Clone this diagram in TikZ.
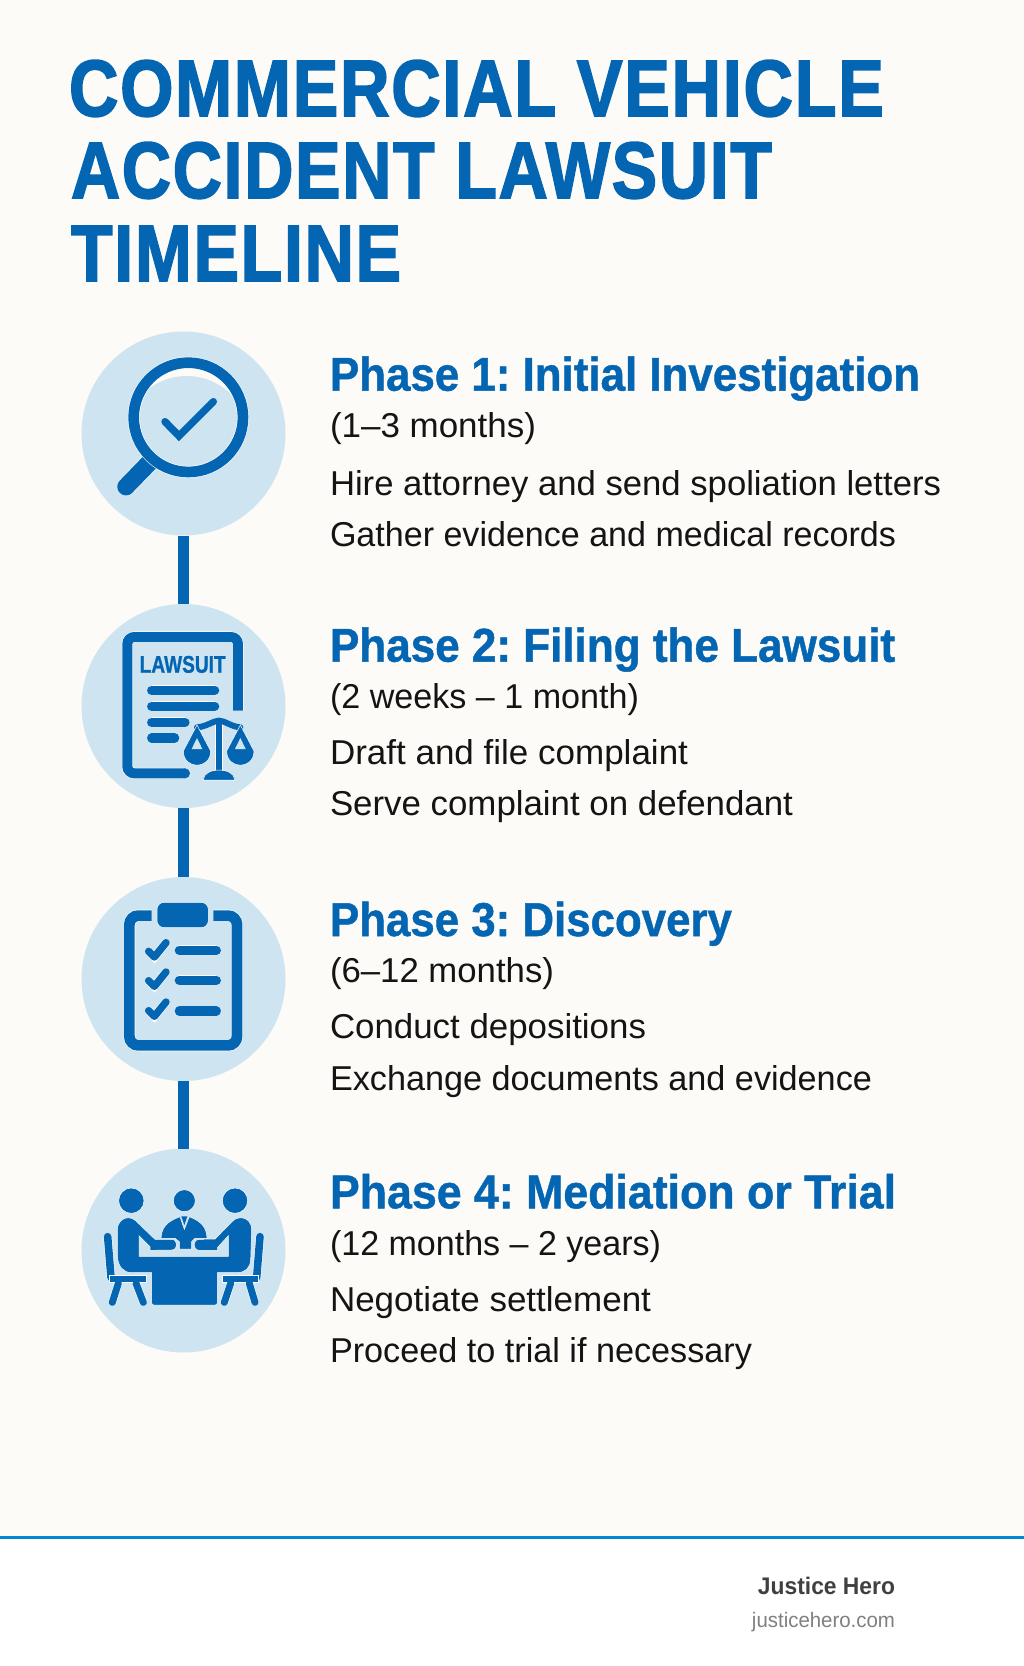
\documentclass[tikz,border=0pt]{standalone}
\usepackage{fontspec}
\usepackage{graphicx}
\newfontfamily\firaf{Liberation Sans}[LetterSpace=2.5,BoldFeatures={FakeBold=2.2,LetterSpace=2.5}]
\newfontfamily\headf{Liberation Sans}[BoldFeatures={FakeBold=1}]
\newfontfamily\bodyf{Liberation Sans}
\newfontfamily\footf{Liberation Sans}
\definecolor{bgc}{HTML}{FDFBF7}
\definecolor{blu}{HTML}{0466B2}
\definecolor{disc}{HTML}{CEE4F0}
\definecolor{ink}{HTML}{141414}
\definecolor{rulec}{HTML}{0088D1}
\definecolor{foota}{HTML}{404040}
\definecolor{footb}{HTML}{808080}
\newcommand\fitw[2]{\resizebox{#1pt}{\height}{#2}}
\newcommand\ttlf{\firaf\bfseries\fontsize{80}{90}\selectfont\color{blu}}
\newcommand\hdf{\headf\bfseries\fontsize{47.5}{54}\selectfont\color{blu}}
\newcommand\bdf{\bodyf\fontsize{34.5}{38}\selectfont\color{ink}}
\frenchspacing
\tikzset{
  txt/.style={anchor=base west,inner sep=0pt,outer sep=0pt},
  txte/.style={anchor=base east,inner sep=0pt,outer sep=0pt},
  dot/.style={circle,fill=disc,minimum size=204pt,inner sep=0pt,outer sep=0pt},
  conn/.style={draw=white,line width=13.4pt,postaction={draw=blu,line width=11.8pt}},
  sk/.style={preaction={draw=white,line width=#1+1.1pt},draw=blu,line width=#1},
  sf/.style={fill=blu,draw=white,line width=0.5pt},
  zoomat/.style={shift={#1},x=0.33333pt,y=-0.33333pt}
}
\begin{document}
\begin{tikzpicture}[x=1pt,y=-1pt]
\useasboundingbox (0,0) rectangle (1024,1666);
\fill[bgc] (0,0) rectangle (1024,1666);
\fill[white] (0,1537) rectangle (1024,1666);
\fill[rulec] (0,1536) rectangle (1024,1539);

% title
\node[txt] (t1) at (69,116) {\fitw{815}{\ttlf COMMERCIAL VEHICLE}};
\node[txt] (t2) at (71,198) {\fitw{701}{\ttlf ACCIDENT LAWSUIT}};
\node[txt] (t3) at (71,281) {\fitw{330}{\ttlf TIMELINE}};

% circles and connectors
\node[dot] (c1) at (183.5,433.5) {};
\node[dot] (c2) at (183.5,706) {};
\node[dot] (c3) at (183.5,979) {};
\node[dot] (c4) at (183.5,1250.5) {};
\draw[conn] (c1.south) -- (c2.north);
\draw[conn] (c2.south) -- (c3.north);
\draw[conn] (c3.south) -- (c4.north);

% icon 1: magnifier
\begin{scope}[zoomat={(60,320)}]
  \draw[sk=17.5pt,line cap=round] (268,428) -- (198,500);
  \fill[bgc] (385,292) circle[radius=148];
  \begin{scope}
    \clip (385,292) circle[radius=146];
    \fill[disc] (380,356) circle[radius=188];
  \end{scope}
  \draw[sk=10.7pt] (385,292) circle[radius=164];
  \draw[blu,line width=7.4pt,line cap=round] (315,305) -- (357,348) -- (460,245);
\end{scope}

% icon 2: document with scales
\begin{scope}[zoomat={(60,600)}]
  \draw[sk=10pt,rounded corners=7pt] (534,332) -- (534,111) -- (202,111) -- (202,520) -- (375,520);
  \fill[blu] (375,520) circle[radius=15];
  \node[txt] (law) at (239,218) {\fitw{86}{\headf\bfseries\fontsize{24}{28}\selectfont\color{blu}LAWSUIT}};
  \foreach \yy/\xe in {271/464,319/464,367/375,414/344}
    \draw[sk=9.2pt,line cap=round] (275,\yy) -- (\xe,\yy);
  % scales
  \fill[sf] (467,365) -- (488,365) -- (488,515) -- (467,515) -- cycle;
  \fill[sf] (430,540) .. controls (430,500) and (524,500) .. (524,540) -- cycle;
  \draw[blu,line width=6pt,line cap=round] (411,382) .. controls (440,380) and (460,362) .. (477,362) .. controls (494,362) and (514,380) .. (541,382);
  \fill[sf] (411,375) -- (452,453) .. controls (452,510) and (370,510) .. (370,453) -- cycle;
  \fill[sf] (541,375) -- (582,453) .. controls (582,510) and (500,510) .. (500,453) -- cycle;
  \fill[disc] (411,414) -- (427,447) -- (395,447) -- cycle;
  \fill[disc] (541,414) -- (557,447) -- (525,447) -- cycle;
\end{scope}

% icon 3: clipboard
\begin{scope}[zoomat={(60,870)}]
  \draw[sk=10.8pt,rounded corners=9pt] (275,137) -- (208,137) -- (208,526) -- (531,526) -- (531,137) -- (460,137);
  \fill[sf,rounded corners=7pt] (291,97) rectangle (445,173);
  \foreach \dy in {0,88,178} {
    \draw[sk=7.4pt,line cap=round,line join=round] (266,\dy+244) -- (283,\dy+261) -- (318,\dy+218);
  }
  \foreach \yy in {241,331,423}
    \draw[sk=9.2pt,line cap=round] (358,\yy) -- (469,\yy);
\end{scope}

% icon 4: meeting
\begin{scope}[zoomat={(60,1140)}]
  \fill[sf] (214,182) circle[radius=38];
  \fill[sf] (373,182) circle[radius=33];
  \fill[sf] (525,182) circle[radius=38];
  % centre person
  \fill[sf] (303,295) .. controls (305,262) and (320,245) .. (360,230) -- (373,268) -- (388,230)
     .. controls (425,245) and (440,262) .. (441,295) -- (405,295) -- (395,305) -- (395,327) -- (358,327) -- (358,305) -- (345,295) -- cycle;
  \fill[blu] (364,229) -- (382,229) -- (373,255) -- cycle;
  % chairs
  \foreach \a/\b/\c/\d/\e/\f/\g/\h/\i/\j in {143/290/153/412/148/258/175/157/228/250, 600/290/590/412/595/487/568/585/512/493} {
    \draw[sk=7.6pt,line cap=round] (\a,\b) -- (\c,\d);
    \fill[sf] (\e,405) rectangle (\f,427);
    \draw[sk=7pt,line cap=round] (\g,430) -- (\h,487);
    \draw[sk=7pt,line cap=round] (\i,430) -- (\j,487);
  }
  % two side people and table
  \fill[sf] (172,270) .. controls (172,245) and (190,233) .. (205,233) .. controls (215,233) and (222,237) .. (228,243)
    -- (285,298) -- (335,298) .. controls (355,298) and (355,330) .. (335,330) -- (270,331) -- (270,320) -- (237,287) -- (237,349)
    -- (505,349) -- (505,287) -- (473,322) -- (473,331) -- (418,331) .. controls (397,330) and (397,298) .. (418,298) -- (465,297)
    -- (518,243) .. controls (524,237) and (532,233) .. (542,233) .. controls (560,233) and (575,245) .. (575,270)
    -- (572,360) .. controls (570,385) and (555,398) .. (530,398) -- (472,398) -- (472,488) .. controls (472,493) and (470,495) .. (465,495)
    -- (282,495) .. controls (277,495) and (275,493) .. (275,488) -- (275,398) -- (215,398) .. controls (190,398) and (175,380) .. (172,350) -- cycle;
\end{scope}

% phase texts
\node[txt] (h1) at (330,390.7) {\fitw{590}{\hdf Phase 1: Initial Investigation}};
\node[txt] (s1) at (330,437.7) {\fitw{206}{\bdf (1–3 months)}};
\node[txt] (a1) at (330,495) {\fitw{611}{\bdf Hire attorney and send spoliation letters}};
\node[txt] (b1) at (330,546.7) {\fitw{566}{\bdf Gather evidence and medical records}};

\node[txt] (h2) at (330,661.7) {\fitw{565}{\hdf Phase 2: Filing the Lawsuit}};
\node[txt] (s2) at (330,708) {\fitw{309}{\bdf (2 weeks – 1 month)}};
\node[txt] (a2) at (330,764) {\fitw{358}{\bdf Draft and file complaint}};
\node[txt] (b2) at (330,815.7) {\fitw{463}{\bdf Serve complaint on defendant}};

\node[txt] (h3) at (330,936) {\fitw{402}{\hdf Phase 3: Discovery}};
\node[txt] (s3) at (330,982.7) {\fitw{224}{\bdf (6–12 months)}};
\node[txt] (a3) at (330,1038.3) {\fitw{316}{\bdf Conduct depositions}};
\node[txt] (b3) at (330,1090) {\fitw{542}{\bdf Exchange documents and evidence}};

\node[txt] (h4) at (330,1208.3) {\fitw{566}{\hdf Phase 4: Mediation or Trial}};
\node[txt] (s4) at (330,1255) {\fitw{331}{\bdf (12 months – 2 years)}};
\node[txt] (a4) at (330,1311.7) {\fitw{321}{\bdf Negotiate settlement}};
\node[txt] (b4) at (330,1362.3) {\fitw{422}{\bdf Proceed to trial if necessary}};

% footer
\node[txte] (f1) at (895,1594) {\fitw{137}{\footf\bfseries\fontsize{24}{28}\selectfont\color{foota}Justice Hero}};
\node[txte] (f2) at (895,1627) {\fitw{143}{\footf\fontsize{21}{25}\selectfont\color{footb}justicehero.com}};
\end{tikzpicture}
\end{document}
